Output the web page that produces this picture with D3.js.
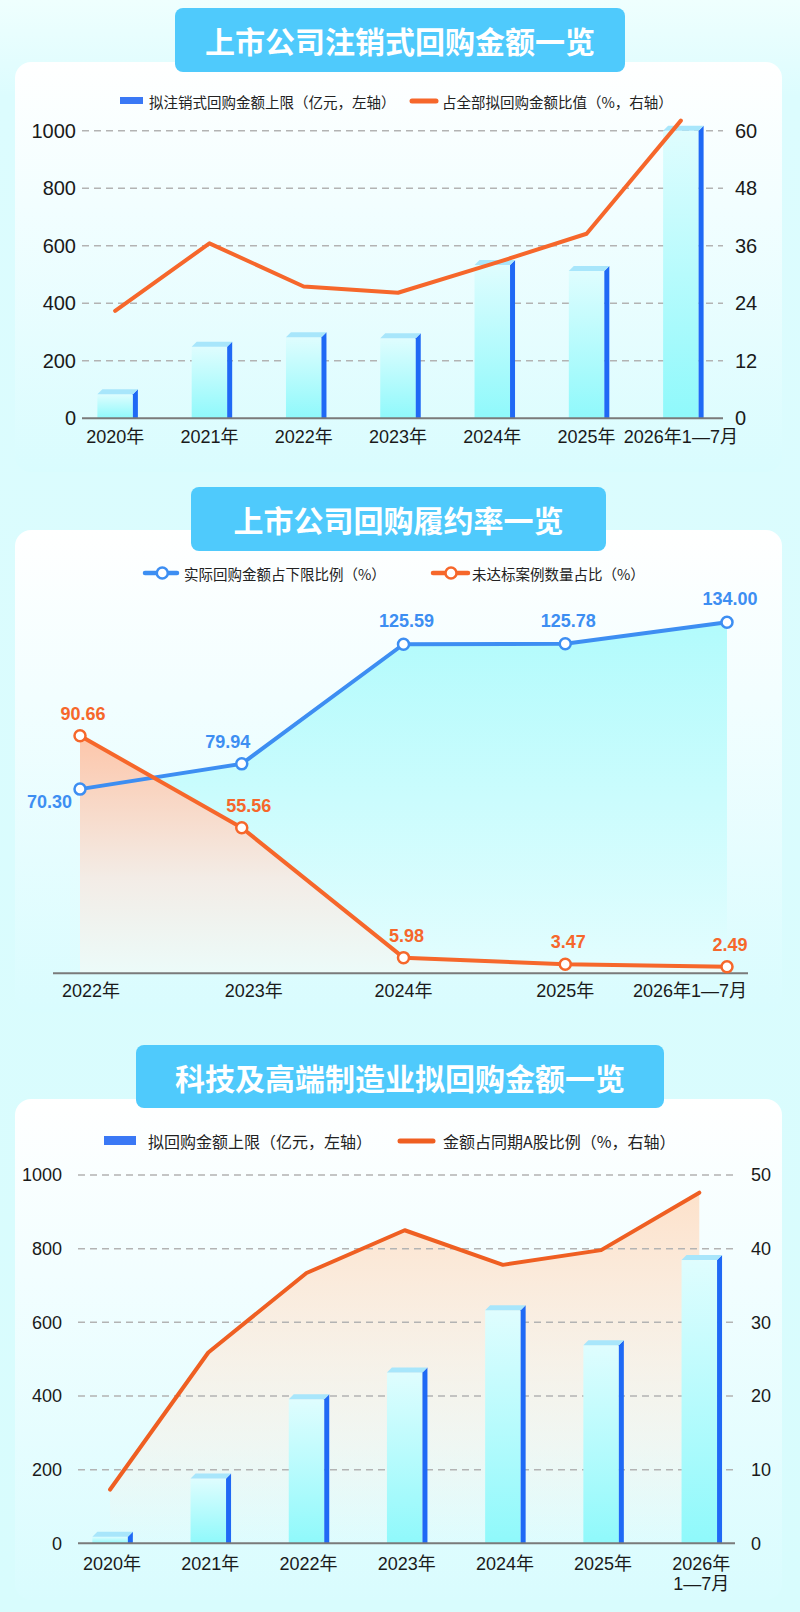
<!DOCTYPE html>
<html>
<head>
<meta charset="utf-8">
<script src="https://cdn.jsdelivr.net/npm/d3@7"></script>
<style>
  body { margin: 0; background: #d9fcfe; }
  svg { display: block; font-family: "Liberation Sans", Arial, "Noto Sans CJK SC", sans-serif; }
</style>
</head>
<body>
<svg id="page" width="800" height="1612"></svg>
<script>
// ---- chart 1: 注销式回购
var years1 = ["2020年", "2021年", "2022年", "2023年", "2024年", "2025年", "2026年1—7月"];
var cancelAmount = [84, 249, 282, 278, 533, 512, 1000];      // 亿元, left axis
var cancelShare = [22.4, 36.5, 27.5, 26.2, 32.2, 38.5, 62.1]; // %, right axis
var leftTicks1 = [0, 200, 400, 600, 800, 1000];
var rightTicks1 = [0, 12, 24, 36, 48, 60];

// ---- chart 2: 履约率
var years2 = ["2022年", "2023年", "2024年", "2025年", "2026年1—7月"];
var fulfilRate = [70.30, 79.94, 125.59, 125.78, 134.00];
var missShare = [90.66, 55.56, 5.98, 3.47, 2.49];

// ---- chart 3: 科技及高端制造业
var years3 = ["2020年", "2021年", "2022年", "2023年", "2024年", "2025年", "2026年\n1—7月"];
var techAmount = [18, 176, 391, 464, 633, 538, 769];
var techShare = [7.3, 25.9, 36.7, 42.5, 37.8, 39.8, 47.6];
var leftTicks3 = [0, 200, 400, 600, 800, 1000];
var rightTicks3 = [0, 10, 20, 30, 40, 50];

var BLUE = "#3d8ef2", ORANGE = "#f6672b", SIDE = "#1f69f5", CAP = "#a8e6fb";
var CJK = "'Noto Sans CJK SC', sans-serif";

var svg = d3.select("#page");
var defs = svg.append("defs");

function vGrad(id, stops) {
  var g = defs.append("linearGradient").attr("id", id)
    .attr("x1", 0).attr("y1", 0).attr("x2", 0).attr("y2", 1);
  stops.forEach(function(s) {
    g.append("stop").attr("offset", s[0]).attr("stop-color", s[1])
      .attr("stop-opacity", s[2] == null ? 1 : s[2]);
  });
}
vGrad("bgGrad", [[0, "#effffe"], [0.06, "#dcfcfe"], [1, "#d8fcfd"]]);
vGrad("cardGrad", [[0, "#ffffff"], [0.35, "#f2feff"], [1, "#d9fcfe"]]);
vGrad("barFront", [[0, "#dffdfe"], [1, "#8ff9fb"]]);
vGrad("blueArea", [[0, "#b2fbfc"], [1, "#e3fdfe"]]);
vGrad("orangeArea", [[0, "#fdc6aa"], [0.6, "#f3ece6"], [1, "#ecfbf9"]]);
vGrad("peachArea", [[0, "#fde0c8", 0.95], [0.7, "#fdeee2", 0.45], [1, "#fdeee2", 0]]);

svg.append("rect").attr("width", 800).attr("height", 1612).attr("fill", "url(#bgGrad)");

function card(y0, y1) {
  svg.append("rect").attr("x", 15).attr("y", y0).attr("width", 767).attr("height", y1 - y0)
    .attr("rx", 16).attr("fill", "url(#cardGrad)");
}
function banner(x0, x1, y0, y1, title) {
  svg.append("rect").attr("x", x0).attr("y", y0).attr("width", x1 - x0).attr("height", y1 - y0)
    .attr("rx", 8).attr("fill", "#4fcafc");
  svg.append("text").attr("x", (x0 + x1) / 2).attr("y", (y0 + y1) / 2)
    .attr("text-anchor", "middle").attr("dominant-baseline", "central")
    .attr("font-family", CJK).attr("font-weight", 700).attr("font-size", 30)
    .attr("fill", "#fff").text(title);
}

card(62, 472);
card(530, 1012);
card(1099, 1600);
banner(175, 625, 8, 72, "上市公司注销式回购金额一览");
banner(191, 606, 487, 551, "上市公司回购履约率一览");
banner(136, 664, 1045, 1108, "科技及高端制造业拟回购金额一览");

function legendText(x, y, size, txt) {
  svg.append("text").attr("x", x).attr("y", y).attr("dominant-baseline", "central")
    .attr("font-family", CJK).attr("font-size", size).attr("fill", "#222").text(txt);
}

function grid(g, y, ticks, x0, x1) {
  g.selectAll(null).data(ticks.filter(function(t) { return t > 0; })).enter().append("line")
    .attr("x1", x0).attr("x2", x1).attr("y1", function(d) { return y(d); }).attr("y2", function(d) { return y(d); })
    .attr("stroke", "#b3b3b3").attr("stroke-width", 1.5).attr("stroke-dasharray", "7,5");
}

function sideAxis(g, axis, tx, size) {
  var a = g.append("g").attr("transform", "translate(" + tx + ",0)")
    .call(axis.tickFormat(d3.format("d")));
  a.select(".domain").remove();
  a.attr("font-size", size).attr("font-family", null);
  a.selectAll("text").attr("fill", "#1a1a1a");
}

function bars(g, cats, vals, x, y) {
  var fw = 35.5, sw = 5;
  var b = g.selectAll(null).data(vals).enter().append("g");
  b.each(function(d, i) {
    var cx = x(cats[i]) + x.bandwidth() / 2;
    var fl = cx - fw / 2, fr = cx + fw / 2, top = y(d), base = y(0);
    var s = d3.select(this);
    s.append("rect").attr("x", fl).attr("y", top).attr("width", fw).attr("height", base - top)
      .attr("fill", "url(#barFront)");
    s.append("polygon").attr("points", [[fr, top], [fr + sw, top - sw], [fr + sw, base], [fr, base]].join(" "))
      .attr("fill", SIDE);
    s.append("polygon").attr("points", [[fl, top], [fl + sw, top - sw], [fr + sw, top - sw], [fr, top]].join(" "))
      .attr("fill", CAP);
  });
}

// ================= chart 1 =================
(function() {
  var g = svg.append("g");
  var x = d3.scaleBand().domain(years1).range([68, 728]);
  var yL = d3.scaleLinear().domain([0, 1000]).range([418.3, 130.7]);
  var yR = d3.scaleLinear().domain([0, 60]).range([418.3, 130.7]);
  var cx = function(d) { return x(d) + x.bandwidth() / 2; };

  grid(g, yL, leftTicks1, 82, 723);
  bars(g, years1, cancelAmount, x, yL);
  g.append("line").attr("x1", 82).attr("x2", 723).attr("y1", yL(0)).attr("y2", yL(0))
    .attr("stroke", "#7a7a7a").attr("stroke-width", 2);

  sideAxis(g, d3.axisLeft(yL).tickValues(leftTicks1).tickSize(0).tickPadding(0), 76, 20);
  sideAxis(g, d3.axisRight(yR).tickValues(rightTicks1).tickSize(0).tickPadding(0), 735, 20);

  var xa = g.append("g").attr("transform", "translate(0," + yL(0) + ")")
    .call(d3.axisBottom(x).tickSize(0).tickPadding(12));
  xa.select(".domain").remove();
  xa.attr("font-size", 18).attr("font-family", null);
  xa.selectAll("text").attr("fill", "#1a1a1a");

  var line = d3.line().x(function(d, i) { return cx(years1[i]); }).y(function(d) { return yR(d); });
  g.append("path").datum(cancelShare).attr("d", line).attr("fill", "none")
    .attr("stroke", ORANGE).attr("stroke-width", 4).attr("stroke-linejoin", "round").attr("stroke-linecap", "round");

  g.append("rect").attr("x", 120).attr("y", 97).attr("width", 23).attr("height", 7).attr("fill", "#3a78f5");
  legendText(149, 101.5, 14.5, "拟注销式回购金额上限（亿元，左轴）");
  g.append("line").attr("x1", 412).attr("x2", 436).attr("y1", 101).attr("y2", 101)
    .attr("stroke", ORANGE).attr("stroke-width", 5).attr("stroke-linecap", "round");
  legendText(442, 101.5, 14.5, "占全部拟回购金额比值（%，右轴）");
})();

// ================= chart 2 =================
(function() {
  var g = svg.append("g");
  var x = d3.scalePoint().domain(years2).range([80, 727]);
  var y = d3.scaleLinear().domain([0, 140]).range([973.3, 606.5]);
  var px = function(d, i) { return x(years2[i]); };

  var area = d3.area().x(px).y0(y(0)).y1(function(d) { return y(d); });
  g.append("path").datum(fulfilRate).attr("d", area).attr("fill", "url(#blueArea)");
  g.append("path").datum(missShare).attr("d", area).attr("fill", "url(#orangeArea)");

  g.append("line").attr("x1", 53).attr("x2", 748).attr("y1", y(0)).attr("y2", y(0))
    .attr("stroke", "#7a7a7a").attr("stroke-width", 2);

  var line = d3.line().x(px).y(function(d) { return y(d); });
  [[fulfilRate, BLUE], [missShare, ORANGE]].forEach(function(s) {
    g.append("path").datum(s[0]).attr("d", line).attr("fill", "none")
      .attr("stroke", s[1]).attr("stroke-width", 4).attr("stroke-linejoin", "round");
    g.selectAll(null).data(s[0]).enter().append("circle")
      .attr("cx", px).attr("cy", function(d) { return y(d); }).attr("r", 5.5)
      .attr("fill", "#fff").attr("stroke", s[1]).attr("stroke-width", 2.5);
  });

  var lab = function(vals, color, pos) {
    g.selectAll(null).data(vals).enter().append("text")
      .attr("x", function(d, i) { return px(d, i) + pos(i)[0]; })
      .attr("y", function(d, i) { return y(d) + pos(i)[1]; })
      .attr("text-anchor", function(d, i) { return pos(i)[2] || "middle"; })
      .attr("font-size", 18).attr("font-weight", 700).attr("fill", color)
      .text(function(d) { return d.toFixed(2); });
  };
  lab(fulfilRate, BLUE, function(i) {
    if (i === 0) return [-8, 19, "end"];
    if (i === 1) return [-14, -16];
    return [3, -17];
  });
  lab(missShare, ORANGE, function(i) {
    if (i === 1) return [7, -16];
    return [3, -16];
  });

  g.selectAll(null).data(years2).enter().append("text")
    .attr("x", function(d, i) {
      if (i === 0) return x(d) - 18;
      if (i === years2.length - 1) return x(d) + 20;
      return x(d) + (i === 1 ? 12 : 0);
    })
    .attr("y", 997)
    .attr("text-anchor", function(d, i) { return i === 0 ? "start" : (i === years2.length - 1 ? "end" : "middle"); })
    .attr("font-size", 18).attr("fill", "#1a1a1a").text(function(d) { return d; });

  [[145, 177, 162.3, BLUE, 184, "实际回购金额占下限比例（%）"],
   [433, 468, 451, ORANGE, 472, "未达标案例数量占比（%）"]].forEach(function(l) {
    g.append("line").attr("x1", l[0]).attr("x2", l[1]).attr("y1", 573).attr("y2", 573)
      .attr("stroke", l[3]).attr("stroke-width", 4.5).attr("stroke-linecap", "round");
    g.append("circle").attr("cx", l[2]).attr("cy", 573).attr("r", 5.5)
      .attr("fill", "#fff").attr("stroke", l[3]).attr("stroke-width", 2.5);
    legendText(l[4], 573.5, 14.5, l[5]);
  });
})();

// ================= chart 3 =================
(function() {
  var g = svg.append("g");
  var x = d3.scaleBand().domain(years3).range([61, 748.4]);
  var yL = d3.scaleLinear().domain([0, 1000]).range([1543.3, 1175]);
  var yR = d3.scaleLinear().domain([0, 50]).range([1543.3, 1175]);
  var cx = function(d) { return x(d) + x.bandwidth() / 2; };
  var px = function(d, i) { return cx(years3[i]); };

  g.append("path").datum(techShare)
    .attr("d", d3.area().x(px).y0(yR(0)).y1(function(d) { return yR(d); }))
    .attr("fill", "url(#peachArea)");
  grid(g, yL, leftTicks3, 78, 735);
  bars(g, years3, techAmount, x, yL);
  g.append("line").attr("x1", 78).attr("x2", 735).attr("y1", yL(0)).attr("y2", yL(0))
    .attr("stroke", "#7a7a7a").attr("stroke-width", 2);

  sideAxis(g, d3.axisLeft(yL).tickValues(leftTicks3).tickSize(0).tickPadding(0), 62, 18);
  sideAxis(g, d3.axisRight(yR).tickValues(rightTicks3).tickSize(0).tickPadding(0), 751, 18);

  g.append("path").datum(techShare)
    .attr("d", d3.line().x(px).y(function(d) { return yR(d); }))
    .attr("fill", "none").attr("stroke", "#ef5f22").attr("stroke-width", 4)
    .attr("stroke-linejoin", "round").attr("stroke-linecap", "round");

  var xl = g.selectAll(null).data(years3).enter().append("text")
    .attr("x", function(d) { return cx(d) + 2; }).attr("y", 1570)
    .attr("text-anchor", "middle").attr("font-size", 18).attr("fill", "#1a1a1a");
  xl.each(function(d) {
    var t = d3.select(this);
    d.split("\n").forEach(function(part, k) {
      t.append("tspan").attr("x", t.attr("x")).attr("dy", k ? 20 : 0).text(part);
    });
  });

  g.append("rect").attr("x", 104).attr("y", 1136).attr("width", 32).attr("height", 9).attr("fill", "#3a78f5");
  legendText(148, 1141, 16, "拟回购金额上限（亿元，左轴）");
  g.append("line").attr("x1", 400).attr("x2", 433).attr("y1", 1141).attr("y2", 1141)
    .attr("stroke", "#ef5f22").attr("stroke-width", 5).attr("stroke-linecap", "round");
  legendText(443, 1141, 16, "金额占同期A股比例（%，右轴）");
})();
</script>
</body>
</html>
